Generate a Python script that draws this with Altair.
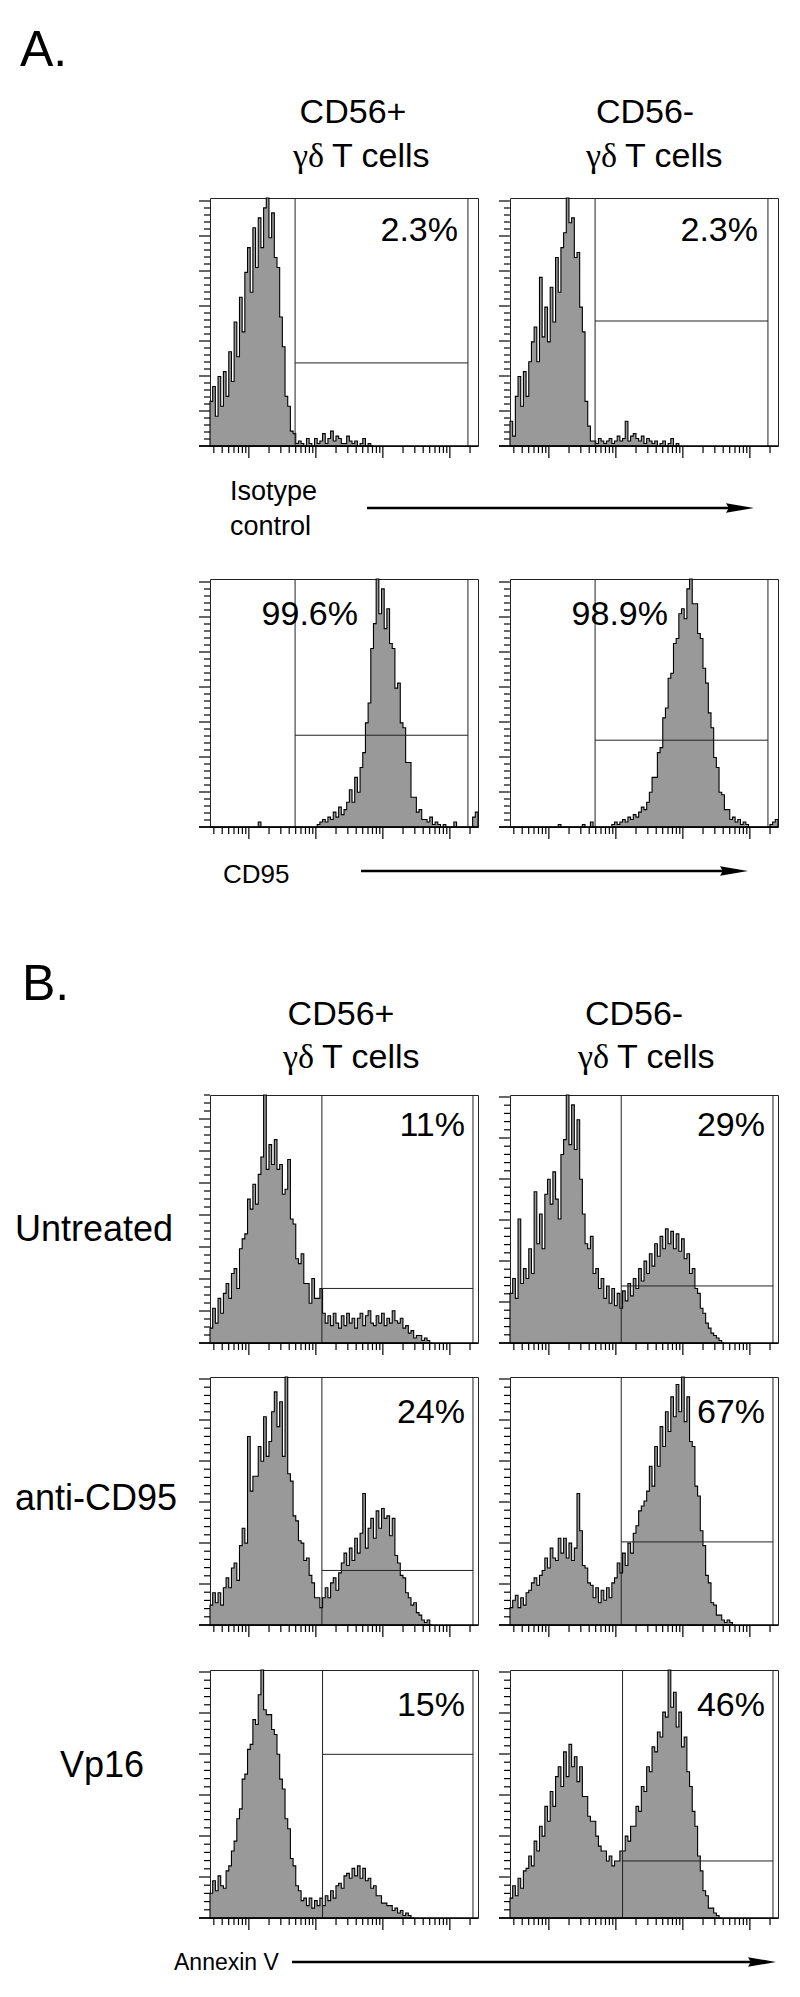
import altair as alt
import pandas as pd

SANS = "Liberation Sans"
SERIF = "Liberation Serif"
U0, U1, BIN = 0.42, 4.42, 0.04   # axis range and channel width, in decades
W, H = 268, 248
GRAY = "#999999"

# ---- histogram heights (% of panel height), one value per channel from the left edge
A1 = [18, 24, 12, 28, 16, 30, 20, 38, 26, 50, 36, 60, 46, 70, 80, 62, 88, 72, 92, 80,
      96, 100, 84, 94, 76, 72, 52, 40, 20, 16, 6, 5, 1,
      2, 1, 0, 3, 1, 0, 3, 1, 2, 5, 1, 3, 6, 2, 4, 3, 1, 1, 4, 2, 1, 2, 0, 1, 3, 0, 1, 0]
A2 = [10, 4, 20, 28, 16, 30, 20, 34, 42, 48, 34, 68, 44, 56, 42, 64, 50, 76, 62, 80,
      86, 100, 90, 92, 76, 78, 56, 46, 18, 8, 2,
      2, 1, 3, 2, 1, 2, 3, 1, 2, 4, 2, 3, 10, 2, 4, 5, 3, 2, 4, 1, 3, 2, 1, 2, 0, 1, 2, 0, 1, 3, 0, 1]
A3 = [0] * 18 + [2] + [0] * 21 + [1, 2, 3, 2, 4, 3, 6, 4, 8, 5, 7, 10] + [15, 10, 20, 14, 24] + \
     [30, 42, 50, 72, 82, 100, 86, 96, 80, 88, 74, 72, 56, 58, 42, 40, 26, 26, 12, 12, 6, 7, 3] + \
     [3, 2, 4, 1, 2, 1, 0, 1, 0, 0] + [0, 2, 0, 0, 0, 0, 0, 0, 4, 6]
A4 = [0] * 18 + [1] + [0] * 8 + [1, 0, 0, 2] + [0] * 7 + \
     [1, 2, 1, 2, 3, 2, 4, 3, 5, 4, 6, 8, 7, 10] + \
     [14, 20, 20, 30, 32, 44, 48, 60, 62, 74, 76, 86, 88, 84, 96, 100, 90, 90, 78, 76,
      64, 58, 46, 40, 28, 24, 14, 13, 7, 7, 3, 4, 2, 3, 1, 2, 1] + [0] * 8 + [1, 2, 3]
B1 = [6, 14, 8, 18, 12, 20, 24, 18, 28, 30, 22, 38, 42, 44, 58, 54, 64, 56, 68, 75,
      100, 70, 80, 72, 82, 70, 72, 60, 62, 74, 50, 48, 34, 32, 36, 24, 24, 16, 26, 18,
      18, 22, 12, 8, 11, 7, 12, 8, 6, 11, 7, 12, 8, 10, 6, 10, 12, 7, 11, 13, 8, 7, 11, 8,
      12, 7, 10, 8, 13, 9, 8, 10, 6, 7, 4, 5, 2, 3, 3, 1, 2, 1, 0]
B2 = [20, 26, 18, 50, 24, 30, 26, 38, 28, 61, 40, 52, 38, 60, 66, 56, 69, 58, 50, 76,
      82, 100, 80, 96, 78, 90, 66, 52, 40, 38, 43, 28, 30, 22, 26, 18, 23, 16, 22, 15,
      20, 14, 21, 17, 24, 19, 26, 22, 30, 25, 33, 28, 36, 31, 40, 35, 43, 38, 46, 40,
      45, 38, 44, 37, 42, 34, 36, 28, 30, 22, 20, 14, 12, 8, 6, 4, 3, 2, 1, 0]
B3 = [8, 13, 9, 13, 8, 15, 19, 15, 23, 25, 18, 32, 39, 33, 76, 54, 60, 60, 72, 66,
      84, 68, 74, 86, 94, 80, 90, 68, 100, 61, 58, 44, 42, 34, 33, 26, 27, 20, 17, 11,
      11, 7, 11, 15, 11, 17, 19, 14, 21, 25, 29, 24, 31, 26, 35, 29, 37, 53, 31, 39,
      43, 35, 46, 39, 47, 43, 44, 36, 43, 28, 25, 20, 19, 13, 11, 8, 9, 5, 4, 2, 1, 2, 0]
B4 = [7, 10, 12, 7, 11, 8, 13, 14, 17, 19, 16, 20, 22, 27, 23, 31, 27, 26, 35, 29,
      35, 27, 33, 26, 31, 53, 38, 24, 23, 17, 16, 11, 15, 9, 14, 10, 15, 11, 17, 19,
      25, 21, 29, 24, 33, 29, 37, 40, 46, 48, 50, 54, 64, 56, 72, 64, 80, 72, 86, 78,
      92, 84, 97, 86, 100, 82, 92, 74, 72, 56, 52, 38, 32, 20, 17, 9, 8, 4, 4, 2, 1, 2, 1, 0]
B5 = [10, 15, 11, 17, 13, 12, 19, 21, 27, 31, 40, 44, 56, 58, 68, 70, 80, 78, 90, 100,
      84, 82, 82, 76, 74, 66, 56, 52, 40, 36, 24, 21, 13, 11, 7, 8, 5, 8, 4, 7,
      5, 8, 5, 9, 7, 11, 8, 13, 14, 12, 17, 18, 16, 20, 17, 21, 16, 20, 15, 16,
      12, 13, 9, 9, 6, 6, 5, 5, 3, 4, 2, 3, 1, 2, 1, 0]
B6 = [8, 13, 9, 16, 12, 19, 20, 25, 21, 31, 27, 37, 33, 45, 39, 51, 45, 57, 61, 53,
      67, 57, 70, 61, 65, 55, 61, 49, 49, 41, 39, 39, 33, 29, 27, 27, 23, 25, 21, 23,
      23, 27, 27, 33, 31, 37, 37, 45, 43, 53, 51, 61, 59, 69, 67, 75, 73, 83, 81, 100,
      85, 91, 77, 83, 69, 73, 59, 53, 43, 37, 25, 19, 11, 9, 4, 4, 2, 1, 0]

# ---- gates (log10 units) and horizontal marker height (% of panel)
GATE_LO = {"A1": 1.69, "A2": 1.69, "A3": 1.69, "A4": 1.69,
           "B1": 2.09, "B2": 2.08, "B3": 2.09, "B4": 2.08, "B5": 2.10, "B6": 2.10}
GATE_HI = {"A1": 4.27, "A2": 4.27, "A3": 4.27, "A4": 4.27,
           "B1": 4.345, "B2": 4.345, "B3": 4.345, "B4": 4.345, "B5": 4.345, "B6": 4.345}
GATE_Y = {"A1": 33.5, "A2": 50.4, "A3": 37, "A4": 35,
          "B1": 22, "B2": 23, "B3": 22, "B4": 33.5, "B5": 66, "B6": 23}
PCT = {"A1": "2.3%", "A2": "2.3%", "A3": "99.6%", "A4": "98.9%",
       "B1": "11%", "B2": "29%", "B3": "24%", "B4": "67%", "B5": "15%", "B6": "46%"}
# y-axis tick spacing in px (major) and number of minor steps
YTICK = {"A1": (35, 5), "A2": (35, 5), "A3": (35, 5), "A4": (35, 5),
         "B1": (32, 4), "B2": (41, 5), "B3": (41, 5), "B4": (41, 5), "B5": (41, 5), "B6": (41, 5)}

XMAJ = [10, 100, 1000, 10000]
XMIN = [3, 4, 5, 6, 7, 8, 9] + [k * 10 for k in range(2, 10)] + [k * 100 for k in range(2, 10)] + \
       [k * 1000 for k in range(2, 10)] + [20000]

xscale = alt.Scale(type="log", domain=[10 ** U0, 10 ** U1], nice=False)
yscale = alt.Scale(domain=[0, 100], nice=False, zero=True)

COLW = [202, W, 32, W]   # grid column widths


def txt(s, x, y, size, align="left", font=SANS):
    return alt.Chart(pd.DataFrame({"t": [s]})).mark_text(
        align=align, baseline="alphabetic", fontSize=size, font=font, color="black"
    ).encode(x=alt.value(x), y=alt.value(y), text="t:N")


def arrow(x1, tip, y, head=28):
    line = alt.Chart(pd.DataFrame({"a": [0]})).mark_rule(color="black", strokeWidth=2.6).encode(
        x=alt.value(x1), x2=alt.value(tip - head + 4), y=alt.value(y))
    hd = alt.Chart(pd.DataFrame({"a": [0]})).mark_point(
        shape="M-1,-0.34L1,0L-1,0.34L-0.8,0Z", size=head * head, filled=True, color="black", opacity=1
    ).encode(x=alt.value(tip - head / 2), y=alt.value(y))
    return [line, hd]


def block(w, h, layers):
    if not layers:
        layers = [txt("", 0, 0, 10)]
    return alt.layer(*layers).properties(width=w, height=h)


def panel(key, counts, pct_x, pct_y, pct_align="right"):
    n = len(counts)
    hist = pd.DataFrame({"x": [10 ** (U0 + i * BIN) for i in range(n + 1)],
                         "y": counts + [0]})
    area = alt.Chart(hist).mark_area(
        interpolate="step-after", fill=GRAY, stroke="black", strokeWidth=1.1
    ).encode(x=alt.X("x:Q", scale=xscale, axis=None), y=alt.Y("y:Q", scale=yscale, axis=None))

    lo, hi, gy = GATE_LO[key], GATE_HI[key], GATE_Y[key]
    vg = alt.Chart(pd.DataFrame({"x": [10 ** lo, 10 ** hi]})).mark_rule(
        color="#222", strokeWidth=1).encode(
        x=alt.X("x:Q", scale=xscale, axis=None), y=alt.value(0), y2=alt.value(H))
    hg = alt.Chart(pd.DataFrame({"x": [10 ** lo], "x2": [10 ** hi], "y": [gy]})).mark_rule(
        color="#222", strokeWidth=1).encode(
        x=alt.X("x:Q", scale=xscale, axis=None), x2="x2:Q",
        y=alt.Y("y:Q", scale=yscale, axis=None))

    xmaj = alt.Chart(pd.DataFrame({"v": XMAJ})).mark_rule(color="black", strokeWidth=1.2).encode(
        x=alt.X("v:Q", scale=xscale, axis=None), y=alt.value(H), y2=alt.value(H + 12))
    xmin = alt.Chart(pd.DataFrame({"v": XMIN})).mark_rule(color="black", strokeWidth=1.2).encode(
        x=alt.X("v:Q", scale=xscale, axis=None), y=alt.value(H), y2=alt.value(H + 7))

    mpx, nsub = YTICK[key]
    step = mpx / nsub
    ymaj_v, ymin_v = [], []
    k = 0
    while k * step <= H + 0.5:
        v = 100 * k * step / H
        (ymaj_v if k % nsub == 0 else ymin_v).append(min(v, 100))
        k += 1
    ymaj = alt.Chart(pd.DataFrame({"v": ymaj_v})).mark_rule(color="black", strokeWidth=1.2).encode(
        y=alt.Y("v:Q", scale=yscale, axis=None), x=alt.value(0), x2=alt.value(-11))
    ymin = alt.Chart(pd.DataFrame({"v": ymin_v})).mark_rule(color="black", strokeWidth=1.2).encode(
        y=alt.Y("v:Q", scale=yscale, axis=None), x=alt.value(0), x2=alt.value(-6))
    xline = alt.Chart(pd.DataFrame({"a": [0]})).mark_rule(color="black", strokeWidth=1.6).encode(
        x=alt.value(-11), x2=alt.value(W), y=alt.value(H))
    label = txt(PCT[key], pct_x, pct_y, 34, align=pct_align)
    return alt.layer(area, vg, hg, xmaj, xmin, ymaj, ymin, xline, label).properties(
        width=W, height=H, view=alt.ViewBackground(stroke="#222", strokeWidth=1))


def header(c1, g1, t1, c2, g2, t2, y1, y2):
    out = []
    for c, g, t in ((c1, g1, t1), (c2, g2, t2)):
        out.append(txt(t, c, y1, 34, align="center"))
        out.append(txt("\u03b3\u03b4", g, y2, 34, align="right", font=SERIF))
        out.append(txt("T cells", g + 8, y2, 34, align="left"))
    return out


def text_row(h, layers):
    # full-width row: all texts live in the first cell and may run across the others
    return [block(COLW[0], h, layers), block(COLW[1], h, []), block(COLW[2], h, []),
            block(COLW[3], h, [])]


def panel_row(left_layers, p1, p2):
    return [block(COLW[0], H, left_layers), p1, block(COLW[2], H, []), p2]


cells = []
cells += text_row(182, [txt("A.", 12, 50, 50)] +
                  header(345, 316, "CD56+", 637, 609, "CD56-", 107, 151))
cells += panel_row([], panel("A1", A1, 248, 43), panel("A2", A2, 248, 43))
cells += text_row(133, [txt("Isotype", 222, 54, 27), txt("control", 222, 89, 27)] +
                  arrow(359, 746, 62))
cells += panel_row([], panel("A3", A3, 148, 46), panel("A4", A4, 158, 46))
cells += text_row(268, [txt("CD95", 215, 56, 26)] + arrow(353, 740, 44) +
                  [txt("B.", 14, 173, 50)] +
                  header(333, 306, "CD56+", 626, 601, "CD56-", 198, 241))
cells += panel_row([txt("Untreated", 7, 146, 36)], panel("B1", B1, 255, 41),
                   panel("B2", B2, 255, 41))
cells += text_row(34, [])
cells += panel_row([txt("anti-CD95", 7, 133, 36)], panel("B3", B3, 255, 46),
                   panel("B4", B4, 255, 46))
cells += text_row(45, [])
cells += panel_row([txt("Vp16", 52, 107, 36)], panel("B5", B5, 255, 46),
                   panel("B6", B6, 255, 46))
cells += text_row(79, [txt("Annexin V", 166, 52, 23)] + arrow(284, 768, 44))

chart = alt.concat(*cells, columns=4, spacing=0, bounds="flush", align="each").properties(
    padding=0).configure_view(strokeWidth=0)

chart.save("out.html", embed_options={"renderer": "svg", "actions": False})
